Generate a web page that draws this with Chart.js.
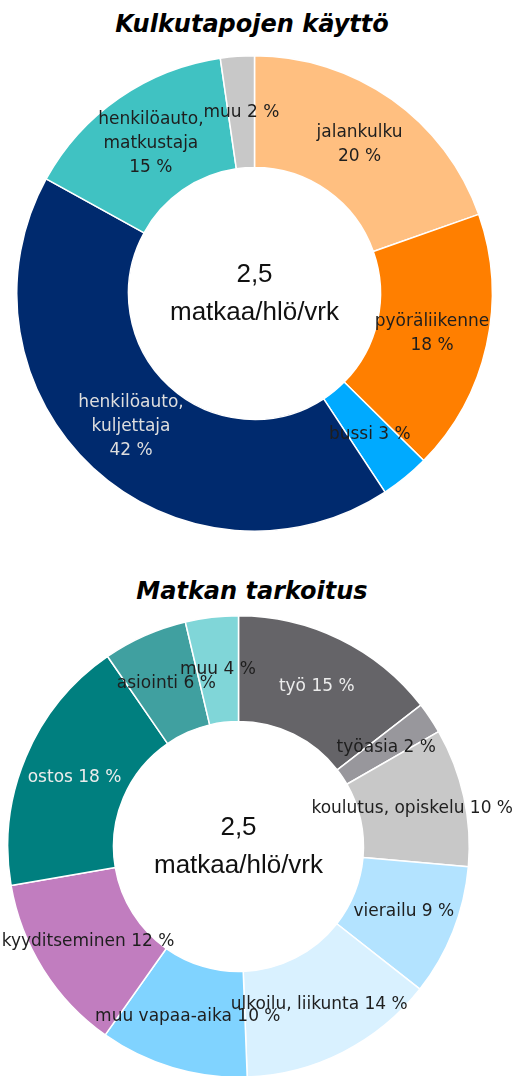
<!DOCTYPE html>
<html lang="fi">
<head>
<meta charset="utf-8">
<script src="https://cdn.jsdelivr.net/npm/chart.js@4.4.1/dist/chart.umd.min.js"></script>
<style>
    html, body { margin: 0; padding: 0; background: #fff; overflow: hidden; }
    body { width: 516px; height: 1076px; position: relative; }
    .title {
        position: absolute; left: 0; width: 504px; text-align: center;
        font-family: "DejaVu Sans", Verdana, sans-serif;
        font-weight: bold; font-style: italic; font-size: 24px; color: #000;
    }
    canvas { position: absolute; left: 0; }
</style>
</head>
<body>
<div class="title" style="top: 10px;">Kulkutapojen käyttö</div>
<canvas id="modes" width="516" height="477" style="top: 55px;"></canvas>
<div class="title" style="top: 577px;">Matkan tarkoitus</div>
<canvas id="purpose" width="516" height="463" style="top: 615px;"></canvas>
<script>
// Kulkutapojen käyttö (osuus matkoista, %)
const modeCategories = ['jalankulku', 'pyöräliikenne', 'bussi', 'henkilöauto, kuljettaja', 'henkilöauto, matkustaja', 'muu'];
const modeValues = [19.6, 17.8, 3.35, 42.25, 14.7, 2.3];
const modeLabelLines = [
    ['jalankulku', '20 %'],
    ['pyöräliikenne', '18 %'],
    ['bussi 3 %'],
    ['henkilöauto,', 'kuljettaja', '42 %'],
    ['henkilöauto,', 'matkustaja', '15 %'],
    ['muu 2 %'],
];
const modeColors = ['#ffbf80', '#ff7f00', '#00aaff', '#002a6e', '#40c2c2', '#c8c8c8'];
const modeTextColors = ['#1e1e1e', '#1e1e1e', '#1e1e1e', '#dedede', '#1e1e1e', '#1e1e1e'];

// Matkan tarkoitus (osuus matkoista, %)
const purposeCategories = ['työ', 'työasia', 'koulutus, opiskelu', 'vierailu', 'ulkoilu, liikunta',
    'muu vapaa-aika', 'kyyditseminen', 'ostos', 'asiointi', 'muu'];
const purposeValues = [14.5, 2.2, 9.7, 9.2, 13.8, 10.4, 12.5, 18.1, 5.9, 3.7];
const purposeLabelLines = [
    ['työ 15 %'], ['työasia 2 %'], ['koulutus, opiskelu 10 %'], ['vierailu 9 %'],
    ['ulkoilu, liikunta 14 %'], ['muu vapaa-aika 10 %'], ['kyyditseminen 12 %'],
    ['ostos 18 %'], ['asiointi 6 %'], ['muu 4 %'],
];
const purposeColors = ['#656468', '#98979c', '#c8c8c8', '#b3e3ff', '#d9f1ff',
    '#80d3ff', '#c17dbf', '#007f7f', '#40a0a0', '#80d6d8'];
const purposeTextColors = ['#ececec', '#1e1e1e', '#1e1e1e', '#1e1e1e', '#1e1e1e',
    '#1e1e1e', '#1e1e1e', '#ececec', '#1e1e1e', '#1e1e1e'];

const centerLines = ['2,5', 'matkaa/hlö/vrk'];

// draws slice labels at the middle of each ring segment, and the text in the hole
const sliceLabels = {
    id: 'sliceLabels',
    afterDatasetsDraw(chart, args, opts) {
        const ctx = chart.ctx;
        const arcs = chart.getDatasetMeta(0).data;
        ctx.save();
        ctx.textAlign = 'center';
        ctx.textBaseline = 'middle';
        ctx.font = '17px "DejaVu Sans", Verdana, sans-serif';
        arcs.forEach((arc, i) => {
            const pos = arc.tooltipPosition();
            const lines = opts.lines[i];
            const lh = 24;
            ctx.fillStyle = opts.colors[i];
            lines.forEach((line, j) => {
                ctx.fillText(line, pos.x, pos.y + (j - (lines.length - 1) / 2) * lh);
            });
        });
        const c = arcs[0];
        ctx.fillStyle = '#111';
        ctx.font = '26px "Liberation Sans", Arial, sans-serif';
        ctx.fillText(centerLines[0], c.x, c.y - 19);
        ctx.fillText(centerLines[1], c.x, c.y + 19);
        ctx.restore();
    }
};

const makeDoughnut = function (elementId, categories, values, colors, lines, textColors, cutout, padLeft, padRight) {
    new Chart(document.getElementById(elementId), {
        type: 'doughnut',
        data: {
            labels: categories,
            datasets: [{
                data: values,
                backgroundColor: colors,
                borderColor: '#ffffff',
                borderWidth: 1.5,
                hoverOffset: 0,
            }]
        },
        options: {
            responsive: false,
            animation: false,
            cutout: cutout,
            layout: { padding: { left: padLeft, right: padRight, top: 0, bottom: 0 } },
            plugins: {
                legend: { display: false },
                tooltip: { enabled: false },
                sliceLabels: { lines: lines, colors: textColors },
            },
        },
        plugins: [sliceLabels],
    });
}

makeDoughnut('modes', modeCategories, modeValues, modeColors, modeLabelLines, modeTextColors, 126, 16, 23);
makeDoughnut('purpose', purposeCategories, purposeValues, purposeColors, purposeLabelLines, purposeTextColors, 125, 7, 46);
</script>
</body>
</html>
